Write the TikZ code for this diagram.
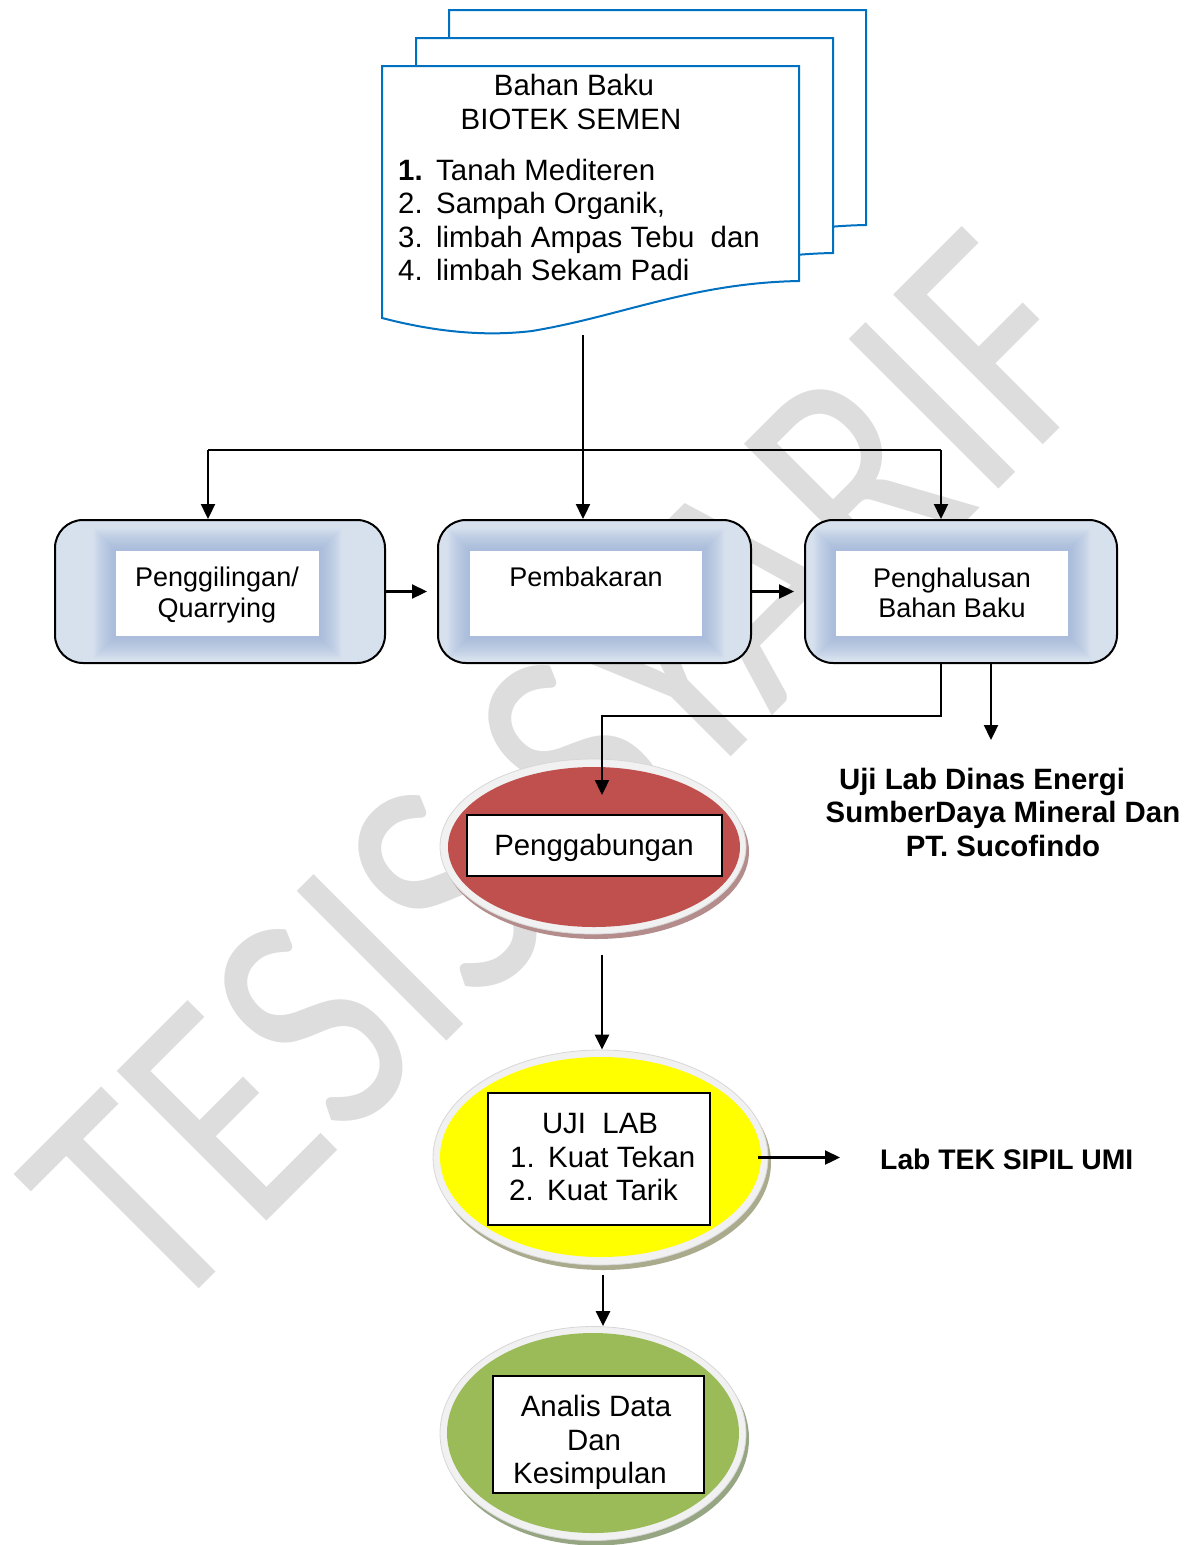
\documentclass[tikz,border=0pt]{standalone}
\usepackage{fontspec}
\setmainfont{Liberation Sans}
\newfontfamily\wmfont{Carlito}
\usetikzlibrary{arrows.meta,calc,shapes.geometric}
\definecolor{docblue}{RGB}{0,112,192}
\definecolor{boxfill}{RGB}{215,225,238}
\definecolor{glowc}{RGB}{140,166,210}
\definecolor{wmgray}{RGB}{221,221,221}
\definecolor{redfill}{RGB}{192,80,77}
\definecolor{yelfill}{RGB}{255,255,0}
\definecolor{grnfill}{RGB}{155,187,89}
\definecolor{rimc}{RGB}{241,241,241}
\definecolor{rimedge}{RGB}{215,215,215}
\definecolor{shred}{RGB}{180,140,140}
\definecolor{shyel}{RGB}{170,170,140}
\definecolor{shgrn}{RGB}{150,165,130}
\newcommand\fsA{\fontsize{29.4}{33.5}\selectfont}
\newcommand\fsB{\fontsize{27}{31}\selectfont}
\newcommand\fsC{\fontsize{29.4}{33.5}\selectfont\bfseries}
\begin{document}
\begin{tikzpicture}[x=1pt,y=-1pt,
  arr/.style={line width=2.3pt,-{Triangle[length=15pt,width=14pt]}},
  ln/.style={line width=2.3pt},
  docsheet/.style={draw=docblue,line width=2pt,fill=white,line join=miter},
  bluebox/.style={draw=black,line width=2pt,fill=boxfill,rounded corners=28pt,inner sep=0,minimum height=143pt},
  whitebox/.style={fill=white,draw=none,inner sep=0,minimum height=85pt},
  rim/.style={ellipse,fill=rimc,draw=rimedge,line width=0.8pt,inner sep=0},
  framebox/.style={fill=white,draw=black,line width=2pt,inner sep=0},
  txt/.style={inner sep=0,font=\fsA},
  btxt/.style={inner sep=0,font=\fsB},
]
\useasboundingbox (0,0) rectangle (1191,1545);

% watermark
\node[rotate=45,anchor=base,inner sep=0,text=wmgray,font=\wmfont\fontsize{330}{330}\selectfont] (wm) at (640,848) {\scalebox{0.81}[1]{TESIS SYARIF}};

% stacked documents
\draw[docsheet,shift={(449,10)}] (0,0) -- (417,0) -- (417,215) .. controls (310,217) and (240,250) .. (150,265) .. controls (100,271) and (50,265) .. (0,252) -- cycle;
\draw[docsheet,shift={(416,38)}] (0,0) -- (417,0) -- (417,215) .. controls (310,217) and (240,250) .. (150,265) .. controls (100,271) and (50,265) .. (0,252) -- cycle;
\draw[docsheet,shift={(382,66)}] (0,0) -- (417,0) -- (417,215) .. controls (310,217) and (240,250) .. (150,265) .. controls (100,271) and (50,265) .. (0,252) -- cycle;
\node[txt,anchor=base] (dt1) at (574,95) {Bahan Baku};
\node[txt,anchor=base] (dt2) at (571,129) {BIOTEK SEMEN};
\node[txt,anchor=base west] (li1) at (398,180) {\makebox[38pt][l]{\bfseries 1.}Tanah Mediteren};
\node[txt,anchor=base west] (li2) at (398,213.5) {\makebox[38pt][l]{2.}Sampah Organik,};
\node[txt,anchor=base west] (li3) at (398,247) {\makebox[38pt][l]{3.}limbah Ampas Tebu\ \ dan};
\node[txt,anchor=base west] (li4) at (398,280.5) {\makebox[38pt][l]{4.}limbah Sekam Padi};
\coordinate (docbot) at (583,335);

% process boxes
\node[bluebox,minimum width=330pt] (b1) at (220,591.5) {};
\node[bluebox,minimum width=313pt] (b2) at (594.5,591.5) {};
\node[bluebox,minimum width=312pt] (b3) at (961,591.5) {};
\node[whitebox,minimum width=203pt] (t1) at (217.5,593.5) {};
\node[whitebox,minimum width=232pt] (t2) at (586,593.5) {};
\node[whitebox,minimum width=232pt] (t3) at (952,593.5) {};
\foreach \t in {t1,t2,t3}{
  \foreach \k in {2,4,...,22}{
    \fill[glowc,opacity=0.07,even odd rule] ($(\t.south west)+(-\k,\k)$) rectangle ($(\t.north east)+(\k,-\k)$) (\t.south west) rectangle (\t.north east);
  }
}
\node[btxt,anchor=base] (p1a) at (217,586) {Penggilingan/};
\node[btxt,anchor=base] (p1b) at (217,617) {Quarrying};
\node[btxt,anchor=base] (p2) at (586,586) {Pembakaran};
\node[btxt,anchor=base] (p3a) at (952,587) {Penghalusan};
\node[btxt,anchor=base] (p3b) at (952,617) {Bahan Baku};

% top connectors
\coordinate (jl) at (208,450);
\coordinate (jr) at (941,450);
\draw[arr] (docbot) -- (docbot |- b2.north);
\draw[ln] (jl) -- (jr);
\draw[arr] (jl) -- (jl |- b1.north);
\draw[arr] (jr) -- (jr |- b3.north);
\draw[arr,shorten >=10pt] (b1.east) -- (b2.west);
\draw[arr,shorten >=10pt] (b2.east) -- (b3.west);

% red ellipse
\fill[shred] (596,851.5) ellipse [x radius=153pt, y radius=87.5pt];
\node[rim,minimum width=306pt,minimum height=175pt] (e1) at (593,846.5) {};
\fill[redfill] (594,847) ellipse [x radius=146pt, y radius=80pt];
\node[framebox,minimum width=255pt,minimum height=61pt] (r1) at (594.5,845.5) {};
\node[txt,anchor=base] (r1t) at (594,855) {Penggabungan};

% connectors from Penghalusan
\coordinate (k1) at (602,716);
\coordinate (k2) at (602,795);
\coordinate (u1) at (991,740);
\draw[arr] (jr |- b3.south) |- (k1) -- (k2);
\draw[arr] (u1 |- b3.south) -- (u1);
\node[inner sep=0,anchor=north,align=center,font=\fsC] (lab1) at (1003,767.5) {Uji Lab Dinas Energi\rule{42pt}{0pt}\\SumberDaya Mineral Dan\\PT. Sucofindo};

% yellow ellipse
\fill[shyel] (603.5,1162.5) ellipse [x radius=167.5pt, y radius=107.5pt];
\node[rim,minimum width=335pt,minimum height=215pt] (e2) at (600.5,1157.5) {};
\fill[yelfill] (600.5,1157) ellipse [x radius=160.5pt, y radius=100pt];
\node[framebox,minimum width=222pt,minimum height=132pt] (r2) at (599,1159) {};
\node[txt,anchor=base] (r2a) at (600,1133) {UJI\ \ LAB};
\node[txt,anchor=base west] (r2b) at (510,1167) {\makebox[38pt][l]{1.}Kuat Tekan};
\node[txt,anchor=base west] (r2c) at (509,1200) {\makebox[38pt][l]{2.}Kuat Tarik};
\draw[arr] ([xshift=9pt,yshift=-21pt]e1.south) coordinate (a1) -- (a1 |- e2.north);
\node[inner sep=0,anchor=base west,font=\fontsize{28.3}{33}\selectfont\bfseries] (lab2) at (880,1169) {Lab TEK SIPIL UMI};
\draw[arr,shorten >=30pt] ([xshift=-10pt]e2.east) -- ([xshift=-10pt]e2.east -| lab2.west);

% green ellipse
\fill[shgrn] (596,1438.5) ellipse [x radius=153pt, y radius=107pt];
\node[rim,minimum width=306pt,minimum height=214pt] (e3) at (593,1433.5) {};
\fill[grnfill] (593,1433) ellipse [x radius=146pt, y radius=100pt];
\node[framebox,minimum width=211pt,minimum height=117pt] (r3) at (598.5,1434.5) {};
\node[txt,anchor=base] (r3a) at (596,1416) {Analis Data};
\node[txt,anchor=base] (r3b) at (594,1450) {Dan};
\node[txt,anchor=base] (r3c) at (590,1483) {Kesimpulan};
\draw[arr] ([xshift=2.5pt,yshift=-10pt]e2.south) coordinate (a2) -- (a2 |- e3.north);
\end{tikzpicture}
\end{document}
